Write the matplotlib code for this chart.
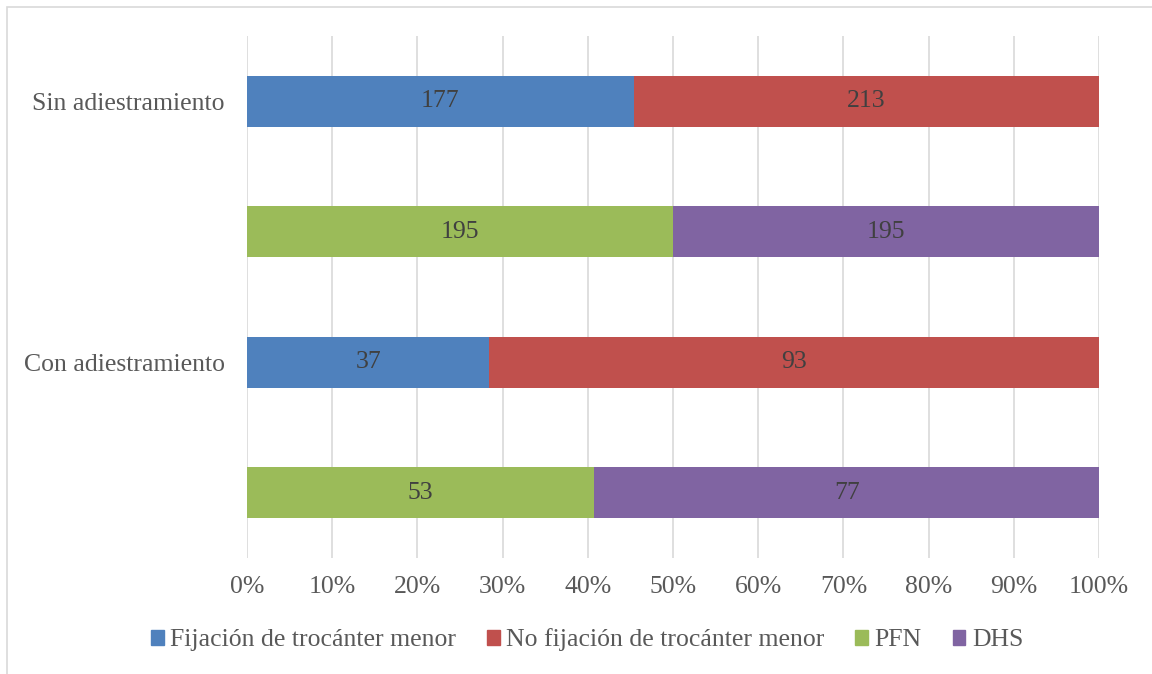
import numpy as np
import matplotlib.pyplot as plt
from matplotlib.patches import Rectangle

# filas de arriba a abajo
filas = ["Sin adiestramiento", "", "Con adiestramiento", ""]
izq = [177, 195, 37, 53]
der = [213, 195, 93, 77]
colores_izq = ["#4F81BD", "#9BBB59", "#4F81BD", "#9BBB59"]
colores_der = ["#C0504D", "#8064A2", "#C0504D", "#8064A2"]
series = ["Fijación de trocánter menor", "No fijación de trocánter menor", "PFN", "DHS"]
colores_series = ["#4F81BD", "#C0504D", "#9BBB59", "#8064A2"]

plt.rcParams["font.family"] = ["Liberation Serif", "DejaVu Serif"]
gris = "#595959"

izq = np.array(izq, dtype=float)
der = np.array(der, dtype=float)
total = izq + der
p_izq = izq / total * 100
p_der = der / total * 100

fig = plt.figure(figsize=(11.52, 6.74), dpi=100)
ax = fig.add_axes([247/1152, 1 - 558/674, (1099-247)/1152, (558-36)/674])

y = np.arange(len(filas))
ax.barh(y, p_izq, height=0.39, color=colores_izq, zorder=3)
ax.barh(y, p_der, left=p_izq, height=0.39, color=colores_der, zorder=3)

for i in range(len(filas)):
    ax.text(p_izq[i]/2, y[i], "%d" % izq[i], ha="center", va="center",
            fontsize=18.5, color="#404040", zorder=4)
    ax.text(p_izq[i] + p_der[i]/2, y[i], "%d" % der[i], ha="center", va="center",
            fontsize=18.5, color="#404040", zorder=4)

ax.set_xlim(0, 100)
ax.set_ylim(3.5, -0.5)
ax.set_xticks(np.arange(0, 101, 10))
ax.set_xticklabels(["%d%%" % v for v in range(0, 101, 10)], fontsize=18.5, color=gris)
ax.set_yticks(y)
ax.set_yticklabels(filas, fontsize=18.5, color=gris)
ax.tick_params(length=0)
ax.tick_params(axis="y", pad=16)
ax.tick_params(axis="x", pad=13)
ax.grid(True, axis="x", color="#D9D9D9", linewidth=1.2, zorder=0)
for s in ax.spines.values():
    s.set_visible(False)

handles = [Rectangle((0, 0), 1, 1, color=c) for c in colores_series]
fig.legend(handles, series, loc="center", bbox_to_anchor=(587/1152, 1 - 640/674),
           ncol=4, frameon=False, fontsize=18.5, labelcolor=gris,
           handlelength=0.5, handleheight=0.5, handletextpad=0.25, columnspacing=1.2)

fig.add_artist(Rectangle((7/1152, -0.1), 1.2, 1 - 7/674 + 0.1, transform=fig.transFigure,
                         fill=False, edgecolor="#D9D9D9", linewidth=1.2))

plt.savefig("out.png")
